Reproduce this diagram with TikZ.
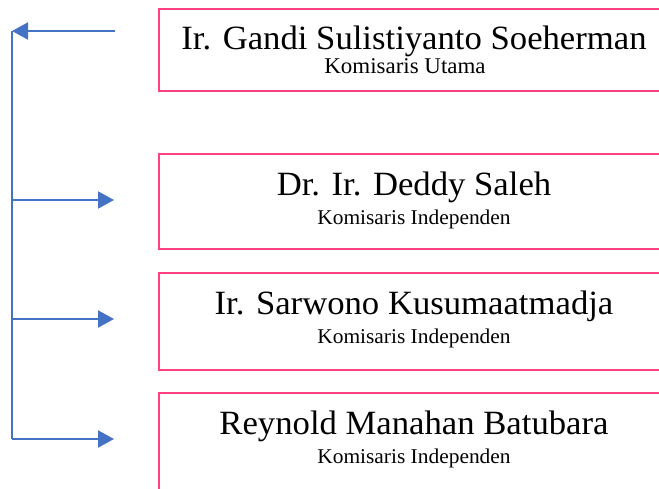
\documentclass[tikz,border=0pt]{standalone}
\usepackage{fontspec}
\setmainfont{Liberation Serif}[FakeStretch=1.02]
\usetikzlibrary{arrows.meta}
\definecolor{boxpink}{HTML}{FF4081}
\definecolor{arrowblue}{HTML}{4472C4}
\begin{document}
\begin{tikzpicture}[x=1pt,y=-1pt,
  box/.style={draw=boxpink,line width=2pt,anchor=north west,minimum width=560pt,inner sep=0pt},
  nametext/.style={anchor=base,inner sep=0pt,font=\fontsize{34}{38}\selectfont},
  roletext/.style={anchor=base,inner sep=0pt,font=\fontsize{21}{24}\selectfont},
  link/.style={draw=arrowblue,line width=2pt},
  tip/.style={-{Triangle[length=16pt,width=17pt]}}]
\useasboundingbox (0,0) rectangle (659,488);
% boxes
\node[box,minimum height=82pt] (b1) at (158,8) {};
\node[box,minimum height=95pt] (b2) at (158,153) {};
\node[box,minimum height=97pt] (b3) at (158,272) {};
\node[box,minimum height=100pt] (b4) at (158,392) {};
% texts
\node[nametext] (t1) at (414,49) {Ir. Gandi Sulistiyanto Soeherman};
\node[roletext,font=\fontsize{22.5}{24}\selectfont] (s1) at (405,73) {Komisaris Utama};
\node[nametext] (t2) at (414,195) {Dr. Ir. Deddy Saleh};
\node[roletext] (s2) at (414,224) {Komisaris Independen};
\node[nametext] (t3) at (414,314) {Ir. Sarwono Kusumaatmadja};
\node[roletext] (s3) at (414,343) {Komisaris Independen};
\node[nametext] (t4) at (414,434) {Reynold Manahan Batubara};
\node[roletext] (s4) at (414,463) {Komisaris Independen};
% connectors
\coordinate (top) at (12,31);
\coordinate (start1) at (115,31);
\coordinate (j2) at (12,200);
\coordinate (e2) at (114,200);
\coordinate (j3) at (12,319);
\coordinate (e3) at (114,319);
\coordinate (j4) at (12,439);
\coordinate (e4) at (114,439);
\draw[link,tip] (start1) -- (top);
\draw[draw=arrowblue,line width=1.5pt] (top) -- (j4);
\draw[link,tip] (j2) -- (e2);
\draw[link,tip] (j3) -- (e3);
\draw[link,tip] (j4) -- (e4);
\end{tikzpicture}
\end{document}
